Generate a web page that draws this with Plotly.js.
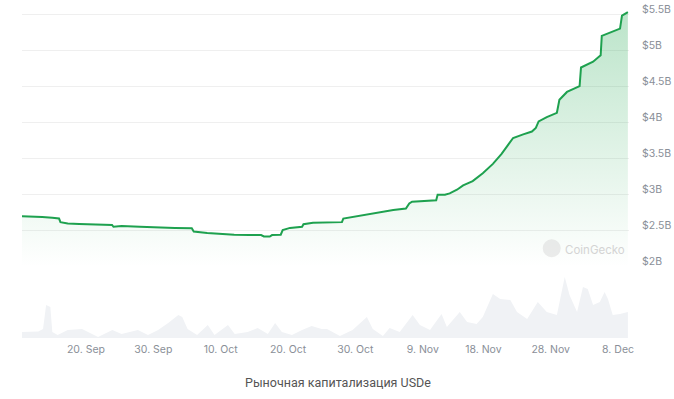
<!DOCTYPE html>
<html>
<head>
<meta charset="utf-8">
<script src="https://cdn.plot.ly/plotly-3.0.1.min.js"></script>
<style>
html,body{margin:0;padding:0;background:#fff;}
#chart{width:674px;height:399px;}
</style>
</head>
<body>
<div id="chart"></div>
<script>
// Market cap (USD billions)
const capDates = [
  "2024-09-10 12:00","2024-09-12 00:00","2024-09-13 12:00","2024-09-15 00:00","2024-09-16 00:00",
  "2024-09-16 05:00","2024-09-17 07:00","2024-09-19 00:00","2024-09-21 07:00","2024-09-23 21:00",
  "2024-09-24 02:00","2024-09-25 07:00","2024-09-28 00:00","2024-09-30 05:00","2024-10-03 05:00",
  "2024-10-05 17:00","2024-10-06 00:00","2024-10-08 00:00","2024-10-10 00:00","2024-10-12 00:00",
  "2024-10-14 07:00","2024-10-16 00:00","2024-10-16 10:00","2024-10-17 07:00","2024-10-17 15:00",
  "2024-10-18 22:00","2024-10-19 05:00","2024-10-20 07:00","2024-10-22 02:00","2024-10-22 07:00",
  "2024-10-23 17:00","2024-10-25 12:00","2024-10-28 00:00","2024-10-28 05:00","2024-10-29 22:00",
  "2024-11-01 05:00","2024-11-02 15:00","2024-11-04 15:00","2024-11-06 12:00","2024-11-07 00:00",
  "2024-11-07 10:00","2024-11-09 07:00","2024-11-11 00:00","2024-11-11 05:00","2024-11-12 07:00",
  "2024-11-13 00:00","2024-11-14 02:00","2024-11-15 00:00","2024-11-16 10:00","2024-11-17 22:00",
  "2024-11-19 10:00","2024-11-20 17:00","2024-11-21 15:00","2024-11-22 10:00","2024-11-23 22:00",
  "2024-11-25 05:00","2024-11-25 19:00","2024-11-26 05:00","2024-11-27 10:00","2024-11-28 22:00",
  "2024-11-29 07:00","2024-11-30 10:00","2024-12-02 07:00","2024-12-02 12:00","2024-12-04 07:00",
  "2024-12-05 10:00","2024-12-05 14:00","2024-12-07 02:00","2024-12-08 07:00","2024-12-08 14:00",
  "2024-12-09 11:00"
];
const capValues = [
  2.70,2.70,2.69,2.68,2.67,
  2.62,2.60,2.595,2.59,2.58,
  2.555,2.565,2.555,2.546,2.54,
  2.535,2.49,2.47,2.455,2.445,
  2.442,2.44,2.42,2.42,2.44,
  2.445,2.51,2.54,2.556,2.59,
  2.61,2.615,2.62,2.67,2.70,
  2.74,2.76,2.79,2.81,2.88,
  2.905,2.915,2.925,3.00,3.00,
  3.02,3.07,3.13,3.19,3.30,
  3.43,3.57,3.68,3.79,3.84,
  3.88,3.93,4.02,4.08,4.14,
  4.32,4.43,4.51,4.77,4.85,
  4.94,5.21,5.26,5.31,5.49,
  5.54
];

// Trading volume (USD millions)
const volDates = [
  "2024-09-10 12:00","2024-09-12 22:00","2024-09-13 15:00","2024-09-14 02:00","2024-09-14 17:00",
  "2024-09-15 00:00","2024-09-15 19:00","2024-09-17 07:00","2024-09-19 10:00","2024-09-20 07:00",
  "2024-09-21 19:00","2024-09-23 22:00","2024-09-25 07:00","2024-09-27 17:00","2024-09-29 05:00",
  "2024-09-30 17:00","2024-10-02 05:00","2024-10-03 17:00","2024-10-04 07:00","2024-10-05 02:00",
  "2024-10-06 12:00","2024-10-08 02:00","2024-10-09 02:00","2024-10-11 02:00","2024-10-12 02:00",
  "2024-10-14 00:00","2024-10-15 12:00","2024-10-17 00:00","2024-10-18 02:00","2024-10-19 02:00",
  "2024-10-20 14:00","2024-10-22 02:00","2024-10-23 12:00","2024-10-25 00:00","2024-10-25 19:00",
  "2024-10-27 17:00","2024-10-29 14:00","2024-10-31 17:00","2024-11-01 14:00","2024-11-03 02:00",
  "2024-11-04 02:00","2024-11-05 14:00","2024-11-07 12:00","2024-11-08 14:00","2024-11-10 02:00",
  "2024-11-11 19:00","2024-11-12 14:00","2024-11-14 12:00","2024-11-15 14:00","2024-11-17 00:00",
  "2024-11-17 22:00","2024-11-19 10:00","2024-11-20 12:00","2024-11-22 00:00","2024-11-23 00:00",
  "2024-11-24 12:00","2024-11-26 02:00","2024-11-27 10:00","2024-11-28 22:00","2024-11-30 02:00",
  "2024-11-30 19:00","2024-12-01 22:00","2024-12-02 19:00","2024-12-03 12:00","2024-12-04 07:00",
  "2024-12-05 07:00","2024-12-06 00:00","2024-12-06 12:00","2024-12-07 05:00","2024-12-08 07:00",
  "2024-12-09 11:00"
];
const volValues = [
  60,65,90,330,310,
  60,30,80,90,60,
  10,80,40,80,30,
  80,150,230,210,90,
  30,130,30,130,40,
  60,100,40,150,60,
  30,80,120,90,90,
  20,80,210,90,20,
  100,60,230,130,80,
  240,110,260,160,140,
  210,440,390,380,260,
  190,360,260,230,610,
  430,260,510,490,330,
  360,460,390,230,240,
  260
];

const tickVals = ["2024-09-20","2024-09-30","2024-10-10","2024-10-20","2024-10-30","2024-11-09","2024-11-18","2024-11-28","2024-12-08"];
const tickText = ["20. Sep","30. Sep","10. Oct","20. Oct","30. Oct","9. Nov","18. Nov","28. Nov","8. Dec"];
const capTickVals = [2,2.5,3,3.5,4,4.5,5,5.5];
const capTickText = ["$2B","$2.5B","$3B","$3.5B","$4B","$4.5B","$5B","$5.5B"];
const captionText = "Рыночная капитализация USDe";

const xRange = ["2024-09-10 12:00","2024-12-09 15:00"];

const traces = [
  {
    x: volDates, y: volValues, type: "scatter", mode: "lines",
    line: {color: "rgba(0,0,0,0)", width: 0, shape: "linear"},
    fill: "tozeroy", fillcolor: "#f0f2f5",
    xaxis: "x", yaxis: "y2", hoverinfo: "skip"
  },
  {
    x: capDates, y: capValues, type: "scatter", mode: "lines",
    line: {color: "#1ea14f", width: 2},
    fill: "tozeroy",
    fillgradient: {
      type: "vertical",
      start: 2.0, stop: 5.6,
      colorscale: [[0, "rgba(40,170,85,0.0)"], [1, "rgba(40,170,85,0.32)"]]
    },
    xaxis: "x", yaxis: "y"
  }
];

// y-axis value labels sit slightly above their gridlines (as in the source chart)
const yLabelAnnotations = capTickVals.map((v, i) => ({
  text: capTickText[i], xref: "paper", yref: "y", x: 1, y: v,
  xanchor: "left", yanchor: "middle", xshift: 11, yshift: 5,
  showarrow: false, font: {size: 10.5, color: "#8a8f98", family: "Inter, 'Open Sans', sans-serif"}
}));

const layout = {
  width: 674, height: 399,
  margin: {l: 22, r: 45, t: 8, b: 61},
  paper_bgcolor: "#fff", plot_bgcolor: "#fff",
  showlegend: false,
  font: {family: "Inter, 'Open Sans', sans-serif", color: "#8a8f98", size: 11},
  xaxis: {
    type: "date", range: xRange,
    tickvals: tickVals, ticktext: tickText,
    showgrid: false, zeroline: false, showline: false,
    ticks: "",
    ticklabelstandoff: 3,
    tickfont: {size: 10.5, color: "#8a8f98"},
    anchor: "y2"
  },
  yaxis: {
    domain: [0.216, 1],
    range: [2.0, 5.597],
    side: "right",
    tickvals: capTickVals, ticktext: capTickText,
    showticklabels: false,
    showgrid: true, gridcolor: "#efefef", gridwidth: 1,
    zeroline: false, showline: false
  },
  yaxis2: {
    domain: [0, 0.2],
    range: [0, 660],
    showgrid: false, zeroline: false, showline: false, showticklabels: false
  },
  shapes: [
    {type: "circle", xref: "paper", yref: "paper",
     x0: 0.8579, x1: 0.8875, y0: 0.245, y1: 0.299,
     fillcolor: "rgba(215,215,215,0.5)", line: {width: 0}, layer: "above"}
  ],
  annotations: yLabelAnnotations.concat([
    {text: "CoinGecko", xref: "paper", yref: "paper", x: 0.891, y: 0.266,
     xanchor: "left", yanchor: "middle", showarrow: false,
     font: {size: 11.5, color: "#d4d4d4", family: "Inter, sans-serif"}},
    {text: captionText, xref: "paper", yref: "paper", x: 0.52, y: -0.136,
     xanchor: "center", yanchor: "middle", showarrow: false,
     font: {size: 12.5, color: "#555", family: "Roboto, 'Open Sans', sans-serif"}}
  ])
};

Plotly.newPlot("chart", traces, layout, {displayModeBar: false, staticPlot: true});
</script>
</body>
</html>
